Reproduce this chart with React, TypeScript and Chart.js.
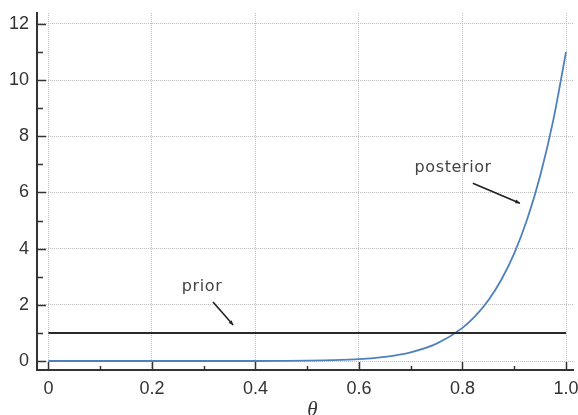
import React, { useEffect, useRef } from "react";
import { Chart, registerables } from "chart.js";

Chart.register(...registerables);

const thetaValues = [0, 0.1, 0.2, 0.3, 0.4, 0.45, 0.5, 0.55, 0.6, 0.65, 0.7, 0.75, 0.8, 0.825, 0.85, 0.875, 0.9, 0.925, 0.95, 0.975, 1.0];
const posteriorValues = [0, 0, 0, 0, 0.001, 0.004, 0.011, 0.028, 0.066, 0.148, 0.311, 0.619, 1.181, 1.607, 2.165, 2.894, 3.835, 5.045, 6.586, 8.539, 11.0];
const priorTheta = [0, 1];
const priorValues = [1, 1];
const xMajorTicks = [0, 0.2, 0.4, 0.6, 0.8, 1.0];
const xTickLabels = ["0", "0.2", "0.4", "0.6", "0.8", "1.0"];
const xMinorTicks = [0.1, 0.3, 0.5, 0.7, 0.9];
const yMajorTicks = [0, 2, 4, 6, 8, 10, 12];
const yMinorTicks = [1, 3, 5, 7, 9, 11];
const xAxisTitle = "θ";
const annotationTexts = ["posterior", "prior"];
const annotationTextPos = [[0.782, 6.87], [0.297, 2.63]];
const annotationArrowFrom = [[0.82, 6.33], [0.318, 2.1]];
const annotationArrowTo = [[0.911, 5.62], [0.357, 1.28]];

const axisColor = "#333333";

const decorPlugin = {
  id: "decor",
  afterDraw(chart: any) {
    const ctx = chart.ctx as CanvasRenderingContext2D;
    const xs = chart.scales.x;
    const ys = chart.scales.y;
    const area = chart.chartArea;
    ctx.save();
    ctx.setLineDash([]);
    ctx.strokeStyle = axisColor;
    ctx.lineWidth = 2;
    ctx.beginPath();
    ctx.moveTo(area.left, area.top);
    ctx.lineTo(area.left, area.bottom);
    ctx.lineTo(area.right, area.bottom);
    ctx.stroke();

    ctx.lineWidth = 1.5;
    const drawX = (vals: number[], len: number) => {
      vals.forEach((v) => {
        const px = Math.round(xs.getPixelForValue(v)) + 0.5;
        ctx.beginPath();
        ctx.moveTo(px, area.bottom);
        ctx.lineTo(px, area.bottom - len);
        ctx.stroke();
      });
    };
    drawX(xMajorTicks, 8);
    drawX(xMinorTicks, 4);
    const drawY = (vals: number[], len: number) => {
      vals.forEach((v) => {
        const py = Math.round(ys.getPixelForValue(v)) + 0.5;
        ctx.beginPath();
        ctx.moveTo(area.left, py);
        ctx.lineTo(area.left + len, py);
        ctx.stroke();
      });
    };
    drawY(yMajorTicks, 9);
    drawY(yMinorTicks, 6);

    ctx.fillStyle = axisColor;
    ctx.font = 'italic 21px "Liberation Serif", serif';
    ctx.textAlign = "center";
    ctx.textBaseline = "alphabetic";
    ctx.fillText(xAxisTitle, xs.getPixelForValue(0.51), 416);

    ctx.fillStyle = "#444444";
    ctx.font = '16px "DejaVu Sans", sans-serif';
    (ctx as any).letterSpacing = "0.6px";
    ctx.textBaseline = "middle";
    annotationTexts.forEach((t, i) => {
      const [tx, ty] = annotationTextPos[i];
      ctx.fillText(t, xs.getPixelForValue(tx), ys.getPixelForValue(ty));
    });
    (ctx as any).letterSpacing = "0px";
    ctx.strokeStyle = "#222222";
    ctx.fillStyle = "#222222";
    ctx.lineWidth = 1.6;
    annotationArrowFrom.forEach((from, i) => {
      const to = annotationArrowTo[i];
      const x1 = xs.getPixelForValue(from[0]);
      const y1 = ys.getPixelForValue(from[1]);
      const x2 = xs.getPixelForValue(to[0]);
      const y2 = ys.getPixelForValue(to[1]);
      ctx.beginPath();
      ctx.moveTo(x1, y1);
      ctx.lineTo(x2, y2);
      ctx.stroke();
      const ang = Math.atan2(y2 - y1, x2 - x1);
      const hl = 5;
      ctx.beginPath();
      ctx.moveTo(x2, y2);
      ctx.lineTo(x2 - hl * Math.cos(ang - 0.4), y2 - hl * Math.sin(ang - 0.4));
      ctx.lineTo(x2 - hl * Math.cos(ang + 0.4), y2 - hl * Math.sin(ang + 0.4));
      ctx.closePath();
      ctx.fill();
    });
    ctx.restore();
  },
};

export default function App() {
  const ref = useRef<HTMLCanvasElement>(null);
  useEffect(() => {
    document.body.style.margin = "0";
    const canvas = ref.current!;
    const chart = new Chart(canvas, {
      type: "line",
      data: {
        datasets: [
          {
            label: "prior",
            data: priorTheta.map((x, i) => ({ x, y: priorValues[i] })),
            borderColor: "#2a2a2a",
            borderWidth: 2,
            pointRadius: 0,
            fill: false,
          },
          {
            label: "posterior",
            data: thetaValues.map((x, i) => ({ x, y: posteriorValues[i] })),
            borderColor: "#4f80be",
            borderWidth: 1.8,
            pointRadius: 0,
            fill: false,
            cubicInterpolationMode: "monotone",
          },
        ],
      },
      options: {
        responsive: false,
        animation: false,
        events: [],
        layout: { padding: { top: 13, right: 5, left: 0, bottom: 0 } },
        plugins: { legend: { display: false }, tooltip: { enabled: false } },
        scales: {
          x: {
            type: "linear",
            min: -0.022,
            max: 1.0135,
            afterFit: (s: any) => {
              s.height = 45;
              s.paddingLeft = 0;
              s.paddingRight = 0;
            },
            afterBuildTicks: (s: any) => {
              s.ticks = xMajorTicks.map((v) => ({ value: v }));
            },
            grid: { color: "#bdbdbd", lineWidth: 1, drawTicks: false },
            border: { display: true, color: axisColor, width: 2, dash: [1, 1] },
            ticks: {
              padding: 8,
              color: axisColor,
              font: { size: 18, family: '"Liberation Sans", Arial, sans-serif' },
              callback: (v: any) => {
                const idx = xMajorTicks.indexOf(Number(v));
                return idx >= 0 ? xTickLabels[idx] : "";
              },
              maxRotation: 0,
              autoSkip: false,
            },
          },
          y: {
            type: "linear",
            min: -0.32,
            max: 12.39,
            afterFit: (s: any) => {
              s.width = 37;
              s.paddingTop = 0;
              s.paddingBottom = 0;
            },
            afterBuildTicks: (s: any) => {
              s.ticks = yMajorTicks.map((v) => ({ value: v }));
            },
            grid: { color: "#bdbdbd", lineWidth: 1, drawTicks: false },
            border: { display: true, color: axisColor, width: 2, dash: [1, 1] },
            ticks: {
              padding: 8,
              color: axisColor,
              font: { size: 18, family: '"Liberation Sans", Arial, sans-serif' },
              autoSkip: false,
            },
          },
        },
      },
      plugins: [decorPlugin],
    } as any);
    return () => chart.destroy();
  }, []);
  return <canvas ref={ref} width={578} height={415} style={{ display: "block" }} />;
}
